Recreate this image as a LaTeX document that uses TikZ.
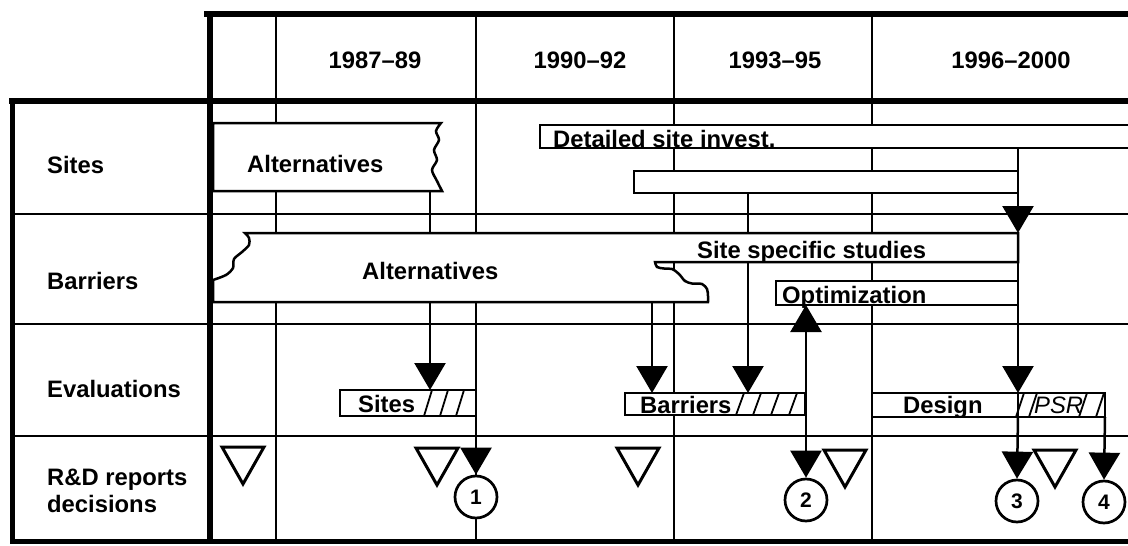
\documentclass[tikz,border=0pt]{standalone}
\usepackage{fontspec}
\setmainfont{Liberation Sans}
\usetikzlibrary{arrows.meta}
\begin{document}
\begin{tikzpicture}[x=1pt,y=-1pt,
  gridline/.style={line width=2.3pt},
  frameline/.style={line width=6pt, line cap=rect},
  bar/.style={draw, line width=2.5pt, fill=white, line join=miter},
  lbl/.style={font=\fontsize{23.8}{28}\selectfont\bfseries, inner sep=0pt},
  ital/.style={font=\fontsize{23.8}{28}\selectfont\itshape, inner sep=0pt},
  conn/.style={line width=2.5pt, -{Triangle[width=31pt,length=27pt]}},
  bconn/.style={line width=2.5pt, {Triangle[width=31pt,length=27pt]}-{Triangle[width=31pt,length=27pt]}},
  opentri/.style={line width=3pt, line join=miter},
  hatchline/.style={line width=1.8pt},
  num/.style={circle, draw, line width=2.7pt, fill=white, minimum size=42pt, inner sep=0pt, font=\fontsize{21}{23}\selectfont\bfseries},
]
\useasboundingbox (0,0) rectangle (1128,546);
\clip (0,0) rectangle (1128,546);

% ---------- grid (thin) ----------
\foreach \yy in {214,324,436} \draw[gridline] (12,\yy) -- (1128,\yy);
\foreach \xx in {276,476,674,872} \draw[gridline] (\xx,14) -- (\xx,541);

% ---------- connector end points ----------
\coordinate (saB) at (430,192);
\coordinate (evS) at (430,390);
\coordinate (baB) at (652,302);
\coordinate (evB1) at (652,393);
\coordinate (b2B) at (748,193);
\coordinate (evB2) at (748,393);
\coordinate (dsB) at (1018,148);
\coordinate (ssT) at (1018,233);
\coordinate (evD) at (1018,393);
\coordinate (dsBot) at (1018,417);
\coordinate (opB) at (806,305);
\coordinate (evSr) at (476,416);
\coordinate (psrB) at (1105,417);

% ---------- circles (decisions) ----------
\node[num] (c1) at (476,497) {1};
\node[num] (c2) at (806,500) {2};
\node[num] (c3) at (1017,501) {3};
\node[num] (c4) at (1104,502) {4};

% ---------- connectors behind bars ----------
\draw[conn] (saB) -- (evS);
\draw[conn] (baB) -- (evB1);
\draw[conn] (b2B) -- (evB2);
\draw[conn] (dsB) -- (ssT);
\draw[conn] (ssT) -- (evD);
\draw[bconn] (opB) -- (c2.north);

% ---------- bars: Sites row ----------
\draw[bar] (213,123) -- (441,123)
  -- plot[smooth] coordinates {(441,123) (436,131) (439,140) (434,150) (437,160) (432,170) (437,181) (442,191)}
  -- (213,191) -- cycle;
\draw[bar] (540,125) rectangle (1140,148);
\draw[bar] (634,171) rectangle (1018,193);

% ---------- bars: Barriers row ----------
\draw[bar] (245,233) -- (1018,233) -- (1018,262) -- (655,262)
  -- plot[smooth] coordinates {(655,262) (657,267) (664,268.5) (672,269) (679,274) (685,281) (692,283.5) (702,284) (707,289) (708,296) (708,302)}
  -- (213,302) -- (213,280)
  -- plot[smooth] coordinates {(213,280) (226,275) (233,268) (234,259) (242,252) (249,245) (249,238) (245,233)} -- cycle;
\draw[bar] (776,281) rectangle (1018,305);

% ---------- thick frame ----------
\draw[frameline] (207,14) -- (1128,14);
\draw[frameline] (12,101) -- (1128,101);
\draw[frameline] (210,14) -- (210,541);
\draw[line width=5pt] (12,101) -- (12,541) -- (1128,541);

% ---------- evaluation boxes ----------
\draw[bar] (340,390) rectangle (476,416);
\foreach \xx in {424,440,456} \draw[hatchline] (\xx,416) -- ++(8,-26);
\draw[bar] (625,393) rectangle (805,415);
\foreach \xx in {736,753,771,789} \draw[hatchline] (\xx,415) -- ++(8,-22);
\draw[bar] (872,393) rectangle (1105,417);
\foreach \xx in {1016,1029,1079,1096} \draw[hatchline] (\xx,417) -- ++(8,-24);

% ---------- connectors into decisions ----------
\draw[line width=2.5pt] (evD) -- (dsBot);
\draw[conn] (dsBot) -- (c3.north);
\draw[conn] (evSr) -- (c1.north);
\draw[conn] (psrB) -- (c4.north);

% ---------- open triangles (R&D reports) ----------
\foreach \xx/\yy in {243/447,437/448,638/448,845/450,1055/450}
  \draw[opentri] (\xx-21,\yy) -- (\xx+21,\yy) -- (\xx,\yy+37) -- cycle;

% ---------- header texts ----------
\node[lbl, anchor=base] (h1) at (375,68) {1987–89};
\node[lbl, anchor=base] (h2) at (580,68) {1990–92};
\node[lbl, anchor=base] (h3) at (775,68) {1993–95};
\node[lbl, anchor=base] (h4) at (1011,68) {1996–2000};

% ---------- row labels ----------
\node[lbl, anchor=base west] (r1) at (47,173) {Sites};
\node[lbl, anchor=base west] (r2) at (47,289) {Barriers};
\node[lbl, anchor=base west] (r3) at (47,397) {Evaluations};
\node[lbl, anchor=base west] (r4) at (47,485) {R\&D reports};
\node[lbl, anchor=base west] (r5) at (47,512) {decisions};

% ---------- bar texts ----------
\node[lbl, anchor=base west] (t1) at (247,172) {Alternatives};
\node[lbl, anchor=base west] (t2) at (553,147) {Detailed site invest.};
\node[lbl, anchor=base west] (t3) at (362,279) {Alternatives};
\node[lbl, anchor=base west] (t4) at (697,258) {Site specific studies};
\node[lbl, anchor=base west] (t5) at (782,303) {Optimization};
\node[lbl, anchor=base west] (t6) at (358,412) {Sites};
\node[lbl, anchor=base west] (t7) at (640,413) {Barriers};
\node[lbl, anchor=base west] (t8) at (903,413) {Design};
\node[ital, anchor=base west] (t9) at (1034,413) {PSR};
\end{tikzpicture}
\end{document}
